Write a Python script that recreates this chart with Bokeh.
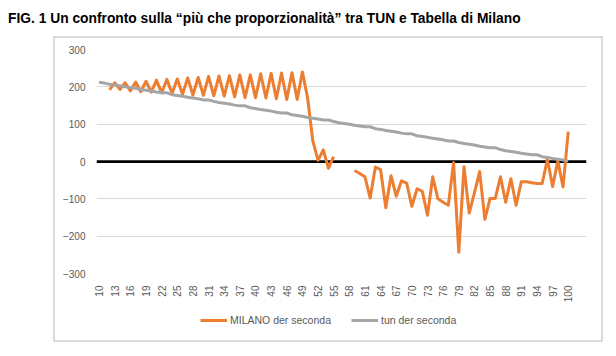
import math
from bokeh.plotting import figure
from bokeh.models import Range1d, FixedTicker, Span, Legend, LegendItem, Div
from bokeh.layouts import column
from bokeh.embed import file_html
from bokeh.resources import INLINE

nan = float("nan")

ages = list(range(10, 101))

milano = [nan, nan, 192, 211, 193, 211, 189, 213, 187, 215,
          186, 218, 184, 220, 182, 221, 180, 224, 178, 225,
          177, 228, 176, 229, 175, 230, 173, 232, 171, 232,
          171, 235, 170, 236, 168, 237, 166, 238, 166, 240,
          170, 55, 3, 31, -18, 13, nan, nan, nan, -24,
          -32, -41, -98, -15, -22, -124, -38, -93, -52, -58,
          -120, -73, -80, -144, -41, -100, -109, -117, -3, -243,
          -14, -138, -84, -27, -155, -99, -99, -41, -109, -46,
          -117, -54, -54, -57, -59, -59, 6, -67, 1, -68,
          80]

tun = [212, 210, 207, 205, 203, 200, 198, 196, 193, 191,
       189, 186, 184, 184, 179, 177, 175, 172, 170, 168,
       165, 165, 161, 158, 156, 154, 151, 149, 149, 144,
       142, 139, 137, 135, 132, 130, 130, 125, 123, 121,
       118, 116, 114, 111, 111, 107, 104, 102, 100, 97,
       95, 93, 93, 88, 86, 83, 81, 79, 76, 74,
       74, 69, 67, 65, 62, 60, 58, 55, 55, 51,
       48, 46, 44, 41, 39, 37, 37, 32, 29, 27,
       25, 22, 20, 18, 18, 13, 11, 8, 6, 4,
       1]

x_ticks = [10, 13, 16, 19, 22, 25, 28, 31, 34, 37, 40, 43, 46, 49, 52, 55,
           58, 61, 64, 67, 70, 73, 76, 79, 82, 85, 88, 91, 94, 97, 100]
y_ticks = [-300, -200, -100, 0, 100, 200, 300]
grid_ticks = [-300, -200, -100, 100, 200, 300]

series_names = ["MILANO der seconda", "tun der seconda"]
series_colors = ["#ED7D31", "#A5A5A5"]

title_text = "FIG. 1 Un confronto sulla \u201cpi\u00f9 che proporzionalit\u00e0\u201d tra TUN e Tabella di Milano"
BORDER = "1px solid #D9D9D9"

# ---- title ----
title_div = Div(
    text=('<div style="position:relative; left:8px; top:11px; '
          'font-family:\'Liberation Sans\', Arial, sans-serif; font-weight:bold; '
          'font-size:13.8px; line-height:16px; white-space:nowrap; color:#000;">'
          + title_text + '</div>'),
    width=616, height=37, margin=(0, 0, 0, 0))

# ---- chart figure ----
p = figure(width=546, height=267, x_range=Range1d(9.5, 103.5), y_range=Range1d(-300, 300),
           toolbar_location=None, output_backend="svg",
           min_border_left=41, min_border_right=15, min_border_top=11, min_border_bottom=32,
           outline_line_color=None, border_fill_color=None)

p.xgrid.visible = False
p.ygrid.ticker = FixedTicker(ticks=grid_ticks)
p.ygrid.grid_line_color = "#D9D9D9"
p.ygrid.grid_line_width = 1

zero = Span(location=0, dimension="width", line_color="black", line_width=2.75, level="underlay")
p.add_layout(zero)

p.line(ages, milano, line_color=series_colors[0], line_width=3, line_join="round")
p.line(ages, tun, line_color=series_colors[1], line_width=3, line_join="round")

for ax in (p.xaxis[0], p.yaxis[0]):
    ax.axis_line_color = None
    ax.major_tick_line_color = None
    ax.minor_tick_line_color = None
    ax.major_label_text_font = "Liberation Sans"
    ax.major_label_text_font_size = "10px"
    ax.major_label_text_color = "#595959"

p.xaxis.ticker = FixedTicker(ticks=x_ticks)
p.xaxis.major_label_orientation = math.pi / 2
p.xaxis.major_label_standoff = 6
p.yaxis.ticker = FixedTicker(ticks=y_ticks)
p.yaxis.major_label_standoff = 5

# ---- legend strip (inside same bordered chart area) ----
lf = figure(width=546, height=35, x_range=Range1d(0, 1), y_range=Range1d(0, 1),
            toolbar_location=None, output_backend="svg",
            x_axis_location=None, y_axis_location=None,
            min_border_left=41, min_border_right=15, min_border_top=0, min_border_bottom=0,
            outline_line_color=None, border_fill_color=None, background_fill_color=None)
lf.grid.visible = False
items = []
for name, col in zip(series_names, series_colors):
    # proxy renderer (no visible data) used only for the legend sample
    r = lf.line(x=[nan], y=[nan], line_color=col, line_width=3)
    items.append(LegendItem(label=name, renderers=[r]))

legend = Legend(items=items, orientation="horizontal", location=(104, 14),
                glyph_width=27, glyph_height=12, label_height=12, label_standoff=3,
                spacing=20, padding=0, margin=0, border_line_color=None,
                background_fill_alpha=0, label_text_font="Liberation Sans",
                label_text_font_size="10.5px", label_text_color="#595959")
lf.add_layout(legend)

chart_area = column(p, lf, spacing=0, margin=(0, 0, 0, 54),
                    styles={"border": BORDER, "outline": BORDER})

layout = column(title_div, chart_area, spacing=0)
open("out.html", "w").write(file_html(layout, INLINE))
